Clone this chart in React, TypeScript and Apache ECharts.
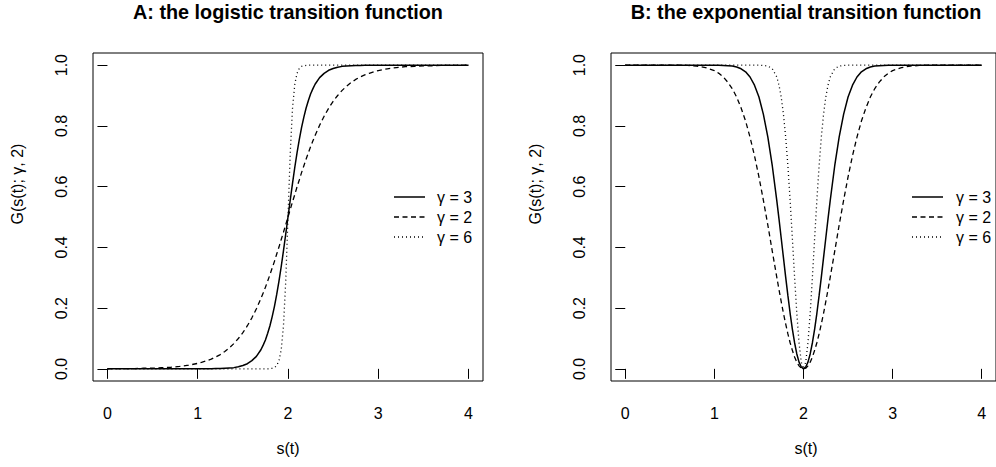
import { useEffect, useRef } from "react";
import * as echarts from "echarts";

// Sample positions along s(t); denser around the transition point s = 2.
const sGrid = [
  0, 0.1, 0.2, 0.3, 0.4, 0.5, 0.6, 0.7, 0.8, 0.9, 1.0,
  1.05, 1.1, 1.15, 1.2, 1.25, 1.3, 1.35, 1.4, 1.45, 1.5, 1.55, 1.6, 1.65, 1.7,
  1.725, 1.75, 1.775, 1.8, 1.825, 1.85, 1.875, 1.9, 1.925, 1.95, 1.975,
  2.0,
  2.025, 2.05, 2.075, 2.1, 2.125, 2.15, 2.175, 2.2, 2.225, 2.25, 2.275,
  2.3, 2.35, 2.4, 2.45, 2.5, 2.55, 2.6, 2.65, 2.7, 2.75, 2.8, 2.85, 2.9, 2.95,
  3.0, 3.1, 3.2, 3.3, 3.4, 3.5, 3.6, 3.7, 3.8, 3.9, 4.0,
];

// Panel A: logistic transition G(s(t); γ, 2)
const logisticGamma3 = [
  0, 0, 0, 0, 0, 0, 0, 0, 0, 0, 0,
  0, 0, 0, 0.001, 0.001, 0.002, 0.003, 0.004, 0.007, 0.011, 0.017, 0.027, 0.041, 0.063,
  0.078, 0.095, 0.117, 0.142, 0.172, 0.206, 0.245, 0.289, 0.337, 0.389, 0.444,
  0.5,
  0.556, 0.611, 0.663, 0.711, 0.755, 0.794, 0.828, 0.858, 0.883, 0.905, 0.922,
  0.937, 0.959, 0.973, 0.983, 0.989, 0.993, 0.996, 0.997, 0.998, 0.999, 0.999, 1, 1, 1,
  1, 1, 1, 1, 1, 1, 1, 1, 1, 1, 1,
];
const logisticGamma2 = [
  0, 0.001, 0.001, 0.001, 0.002, 0.002, 0.004, 0.005, 0.008, 0.012, 0.018,
  0.022, 0.027, 0.032, 0.039, 0.047, 0.057, 0.069, 0.083, 0.1, 0.119, 0.142, 0.168, 0.198, 0.232,
  0.25, 0.269, 0.289, 0.31, 0.332, 0.354, 0.378, 0.401, 0.426, 0.45, 0.475,
  0.5,
  0.525, 0.55, 0.574, 0.599, 0.622, 0.646, 0.668, 0.69, 0.711, 0.731, 0.75,
  0.768, 0.802, 0.832, 0.858, 0.881, 0.9, 0.917, 0.931, 0.943, 0.953, 0.961, 0.968, 0.973, 0.978,
  0.982, 0.988, 0.992, 0.995, 0.996, 0.998, 0.998, 0.999, 0.999, 0.999, 1,
];
const logisticGamma6 = [
  0, 0, 0, 0, 0, 0, 0, 0, 0, 0, 0,
  0, 0, 0, 0, 0, 0, 0, 0, 0, 0, 0, 0, 0, 0,
  0, 0, 0, 0.001, 0.002, 0.004, 0.011, 0.027, 0.063, 0.142, 0.289,
  0.5,
  0.711, 0.858, 0.937, 0.973, 0.989, 0.996, 0.998, 0.999, 1, 1, 1,
  1, 1, 1, 1, 1, 1, 1, 1, 1, 1, 1, 1, 1, 1,
  1, 1, 1, 1, 1, 1, 1, 1, 1, 1, 1,
];

// Panel B: exponential transition G(s(t); γ, 2)
const expGamma3 = [
  1, 1, 1, 1, 1, 1, 1, 1, 1, 1, 1,
  1, 0.999, 0.998, 0.997, 0.994, 0.988, 0.978, 0.961, 0.934, 0.895, 0.838, 0.763, 0.668, 0.555,
  0.494, 0.43, 0.366, 0.302, 0.241, 0.183, 0.131, 0.086, 0.049, 0.022, 0.006,
  0,
  0.006, 0.022, 0.049, 0.086, 0.131, 0.183, 0.241, 0.302, 0.366, 0.43, 0.494,
  0.555, 0.668, 0.763, 0.838, 0.895, 0.934, 0.961, 0.978, 0.988, 0.994, 0.997, 0.998, 0.999, 1,
  1, 1, 1, 1, 1, 1, 1, 1, 1, 1, 1,
];
const expGamma2 = [
  1, 1, 1, 1, 1, 1, 1, 0.999, 0.997, 0.992, 0.982,
  0.973, 0.961, 0.944, 0.923, 0.895, 0.859, 0.816, 0.763, 0.702, 0.632, 0.555, 0.473, 0.387, 0.302,
  0.261, 0.221, 0.183, 0.148, 0.115, 0.086, 0.061, 0.039, 0.022, 0.01, 0.002,
  0,
  0.002, 0.01, 0.022, 0.039, 0.061, 0.086, 0.115, 0.148, 0.183, 0.221, 0.261,
  0.302, 0.387, 0.473, 0.555, 0.632, 0.702, 0.763, 0.816, 0.859, 0.895, 0.923, 0.944, 0.961, 0.973,
  0.982, 0.992, 0.997, 0.999, 1, 1, 1, 1, 1, 1, 1,
];
const expGamma6 = [
  1, 1, 1, 1, 1, 1, 1, 1, 1, 1, 1,
  1, 1, 1, 1, 1, 1, 1, 1, 1, 1, 0.999, 0.997, 0.988, 0.961,
  0.934, 0.895, 0.838, 0.763, 0.668, 0.555, 0.43, 0.302, 0.183, 0.086, 0.022,
  0,
  0.022, 0.086, 0.183, 0.302, 0.43, 0.555, 0.668, 0.763, 0.838, 0.895, 0.934,
  0.961, 0.988, 0.997, 0.999, 1, 1, 1, 1, 1, 1, 1, 1, 1, 1,
  1, 1, 1, 1, 1, 1, 1, 1, 1, 1, 1,
];

const xTicks = [0, 1, 2, 3, 4];
const yTicks = [0, 0.2, 0.4, 0.6, 0.8, 1.0];
const legendLabels = ["γ = 3", "γ = 2", "γ = 6"];
const panelTitles = [
  "A: the logistic transition function",
  "B: the exponential transition function",
];
const xAxisTitle = "s(t)";
const yAxisTitle = "G(s(t); γ, 2)";

const panelCurves = [
  [logisticGamma3, logisticGamma2, logisticGamma6],
  [expGamma3, expGamma2, expGamma6],
];

const FONT = "'Liberation Sans', Arial, Helvetica, sans-serif";
const GRID_TOP = 53;
const GRID_W = 390;
const GRID_H = 328;
const GRID_LEFTS = [93, 611];
const LEGEND_LINE_X = [394, 912];
const LEGEND_TEXT_X = [437, 956];
const LEGEND_ROWS = [197, 217, 237];

// solid, dashed, dotted – in the same order as the legend entries
const curveStyles = [
  { type: "solid" as any, width: 1.5, dash: undefined as number[] | undefined },
  { type: [5, 3.5] as any, width: 1.3, dash: [5, 3.5] },
  { type: [1, 3] as any, width: 1.3, dash: [1, 3] },
];

function buildOption() {
  const grid = GRID_LEFTS.map((left) => ({
    left,
    top: GRID_TOP,
    width: GRID_W,
    height: GRID_H,
    show: true,
    borderColor: "#000",
    borderWidth: 1,
    backgroundColor: "transparent",
  }));

  const xAxis = GRID_LEFTS.map((_, p) => ({
    type: "value",
    gridIndex: p,
    min: -0.16,
    max: 4.16,
    axisLine: { show: false },
    splitLine: { show: false },
    axisTick: {
      show: true,
      inside: false,
      length: 10,
      customValues: xTicks,
      lineStyle: { color: "#000", width: 1 },
    },
    axisLabel: {
      customValues: xTicks,
      margin: 24,
      fontSize: 16,
      fontFamily: FONT,
      color: "#000",
    },
  }));

  const yAxis = GRID_LEFTS.map((_, p) => ({
    type: "value",
    gridIndex: p,
    min: -0.04,
    max: 1.04,
    axisLine: { show: false },
    splitLine: { show: false },
    axisTick: {
      show: true,
      inside: false,
      length: 10,
      customValues: yTicks,
      lineStyle: { color: "#000", width: 1 },
    },
    axisLabel: {
      customValues: yTicks,
      rotate: 90,
      margin: 24,
      fontSize: 16,
      fontFamily: FONT,
      color: "#000",
      formatter: (v: number) => v.toFixed(1),
    },
  }));

  const series: any[] = [];
  panelCurves.forEach((curves, p) => {
    curves.forEach((values, i) => {
      series.push({
        type: "line",
        name: `${panelTitles[p]} ${legendLabels[i]}`,
        xAxisIndex: p,
        yAxisIndex: p,
        data: sGrid.map((s, j) => [s, values[j]]),
        showSymbol: false,
        symbol: "none",
        silent: true,
        lineStyle: {
          color: "#000",
          width: curveStyles[i].width,
          type: curveStyles[i].type,
        },
      });
    });
  });

  const text = (
    x: number,
    y: number,
    str: string,
    size: number,
    align: string,
    weight = "normal",
    rotation = 0
  ) => ({
    type: "text",
    x,
    y,
    rotation,
    silent: true,
    style: {
      text: str,
      fontSize: size,
      fontFamily: FONT,
      fontWeight: weight,
      fill: "#000",
      align,
      textAlign: align,
      verticalAlign: "middle",
      textVerticalAlign: "middle",
    },
  });

  const graphic: any[] = [];
  GRID_LEFTS.forEach((left, p) => {
    const cx = left + GRID_W / 2;
    graphic.push(text(cx, 12, panelTitles[p], 19.8, "center", "bold"));
    graphic.push(text(cx, 448.5, xAxisTitle, 16, "center"));
    graphic.push(text(left - 76, 184, yAxisTitle, 16, "center", "normal", Math.PI / 2));
    LEGEND_ROWS.forEach((y, i) => {
      graphic.push({
        type: "line",
        silent: true,
        shape: { x1: LEGEND_LINE_X[p], y1: y, x2: LEGEND_LINE_X[p] + 31, y2: y },
        style: {
          stroke: "#000",
          lineWidth: curveStyles[i].width,
          lineDash: curveStyles[i].dash,
        },
      });
      graphic.push(text(LEGEND_TEXT_X[p], y, legendLabels[i], 16, "left"));
    });
  });

  return {
    animation: false,
    backgroundColor: "#fff",
    grid,
    xAxis,
    yAxis,
    series,
    graphic,
  };
}

export default function App() {
  const ref = useRef<HTMLDivElement>(null);

  useEffect(() => {
    if (!ref.current) return;
    const chart = echarts.init(ref.current, undefined, { renderer: "svg" });
    chart.setOption(buildOption() as any);
    return () => chart.dispose();
  }, []);

  return (
    <div
      ref={ref}
      style={{
        position: "absolute",
        left: 0,
        top: 0,
        width: 996,
        height: 467,
        background: "#fff",
      }}
    />
  );
}
